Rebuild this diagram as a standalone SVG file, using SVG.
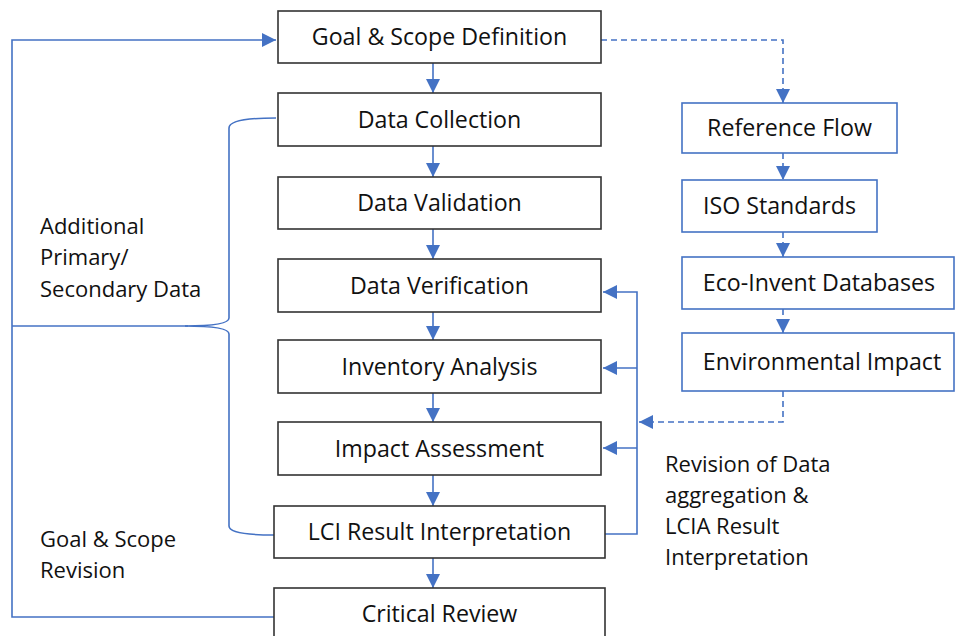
<svg xmlns="http://www.w3.org/2000/svg" width="955" height="636" viewBox="0 0 955 636">
<style>
.box{fill:#fff;stroke:#333;stroke-width:1.6}
.bbox{fill:#fff;stroke:#4472C4;stroke-width:1.6}
.t{font-family:"Open Sans","Liberation Sans",sans-serif;font-size:23.2px;fill:#111;text-anchor:middle}
.l{font-family:"Open Sans","Liberation Sans",sans-serif;font-size:22px;fill:#111}
.c{fill:none;stroke:#4472C4;stroke-width:1.6}
.d{fill:none;stroke:#4472C4;stroke-width:1.6;stroke-dasharray:6 4}
</style>
<defs>
<marker id="ah" markerUnits="userSpaceOnUse" markerWidth="14" markerHeight="14" viewBox="0 0 14 14" refX="14" refY="7" orient="auto">
<path d="M0,0 L14,7 L0,14 Z" fill="#4472C4"/>
</marker>
</defs>
<g id="connectors">
<path class="c" d="M274,617 L12,617 L12,40 L276,40" marker-end="url(#ah)"/>
<path class="c" d="M12,326 L188,326"/>
<path class="c" d="M276,118 Q229,118 229,128 L229,318 Q229,326 185,326 Q229,326 229,334 L229,526 Q229,535 274,535"/>
<path class="c" d="M433,63 L433,93" marker-end="url(#ah)"/>
<path class="c" d="M433,146 L433,177" marker-end="url(#ah)"/>
<path class="c" d="M433,229 L433,259" marker-end="url(#ah)"/>
<path class="c" d="M433,312 L433,340" marker-end="url(#ah)"/>
<path class="c" d="M433,393 L433,422" marker-end="url(#ah)"/>
<path class="c" d="M433,475 L433,506" marker-end="url(#ah)"/>
<path class="c" d="M433,558 L433,588" marker-end="url(#ah)"/>
<path class="d" d="M601,40 L783,40 L783,103" marker-end="url(#ah)"/>
<path class="d" d="M783,153 L783,180" marker-end="url(#ah)"/>
<path class="d" d="M783,232 L783,257" marker-end="url(#ah)"/>
<path class="d" d="M783,309 L783,333" marker-end="url(#ah)"/>
<path class="d" d="M783,391 L783,422 L639,422" marker-end="url(#ah)"/>
<path class="c" d="M605,534 L637,534 L637,292 L603,292" marker-end="url(#ah)"/>
<path class="c" d="M637,368 L603,368" marker-end="url(#ah)"/>
<path class="c" d="M637,448 L603,448" marker-end="url(#ah)"/>
</g>
<g id="goal"><rect class="box" x="278" y="11" width="323" height="52"/><text class="t" x="439.5" y="45">Goal &amp; Scope Definition</text></g>
<g id="collection"><rect class="box" x="278" y="93" width="323" height="53"/><text class="t" x="439.5" y="127.5">Data Collection</text></g>
<g id="validation"><rect class="box" x="278" y="177" width="323" height="52"/><text class="t" x="439.5" y="211">Data Validation</text></g>
<g id="verification"><rect class="box" x="278" y="259" width="323" height="53"/><text class="t" x="439.5" y="293.5">Data Verification</text></g>
<g id="inventory"><rect class="box" x="278" y="340" width="323" height="53"/><text class="t" x="439.5" y="374.5">Inventory Analysis</text></g>
<g id="impact"><rect class="box" x="278" y="422" width="323" height="53"/><text class="t" x="439.5" y="456.5">Impact Assessment</text></g>
<g id="lci"><rect class="box" x="274" y="506" width="331" height="52"/><text class="t" x="439.5" y="540">LCI Result Interpretation</text></g>
<g id="review"><rect class="box" x="274" y="588" width="331" height="60"/><text class="t" x="439.5" y="621.5">Critical Review</text></g>
<g id="refflow"><rect class="bbox" x="682" y="103" width="215" height="50"/><text class="t" x="789.5" y="136">Reference Flow</text></g>
<g id="iso"><rect class="bbox" x="682" y="180" width="195" height="52"/><text class="t" x="779.5" y="214">ISO Standards</text></g>
<g id="ecoinvent"><rect class="bbox" x="682" y="257" width="272" height="52"/><text class="t" x="819" y="291">Eco-Invent Databases</text></g>
<g id="envimpact"><rect class="bbox" x="682" y="333" width="272" height="58"/><text class="t" x="822" y="370">Environmental Impact</text></g>
<g id="labels">
<text class="l" x="40" y="234">Additional</text>
<text class="l" x="40" y="265">Primary/</text>
<text class="l" x="40" y="297">Secondary Data</text>
<text class="l" x="40" y="547">Goal &amp; Scope</text>
<text class="l" x="40" y="578">Revision</text>
<text class="l" x="665" y="472">Revision of Data</text>
<text class="l" x="665" y="503">aggregation &amp;</text>
<text class="l" x="665" y="534">LCIA Result</text>
<text class="l" x="665" y="565">Interpretation</text>
</g>
</svg>
